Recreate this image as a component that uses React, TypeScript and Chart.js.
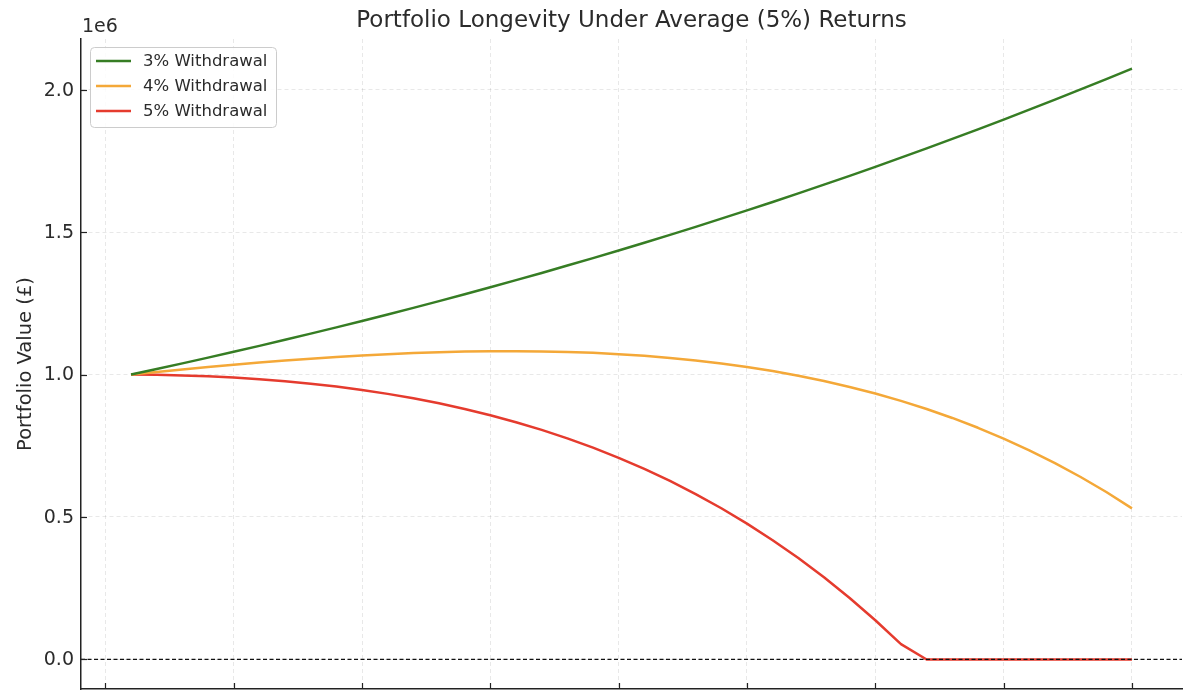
import React, { useEffect, useRef } from 'react';
import { Chart, registerables } from 'chart.js';

Chart.register(...registerables);

// years 1..40, portfolio values in £
const years = [1, 2, 3, 4, 5, 6, 7, 8, 9, 10, 11, 12, 13, 14, 15, 16, 17, 18, 19, 20,
  21, 22, 23, 24, 25, 26, 27, 28, 29, 30, 31, 32, 33, 34, 35, 36, 37, 38, 39, 40];

const withdrawal3 = [1000000, 1019400, 1039200, 1059300, 1079800, 1100600, 1121900, 1143500, 1165500, 1188000,
  1210800, 1234000, 1257700, 1281800, 1306300, 1331200, 1356600, 1382400, 1408700, 1435400,
  1462600, 1490300, 1518400, 1547000, 1576100, 1605700, 1635800, 1666400, 1697400, 1729000,
  1761200, 1793800, 1826900, 1860600, 1894800, 1929600, 1964800, 2000700, 2037000, 2073900];

const withdrawal4 = [1000000, 1009200, 1018000, 1026500, 1034500, 1042100, 1049100, 1055700, 1061600, 1066800,
  1071400, 1075300, 1078300, 1080500, 1081700, 1082000, 1081200, 1079200, 1076000, 1071600,
  1065700, 1058400, 1049400, 1038800, 1026400, 1012100, 995800, 977300, 956500, 933300,
  907600, 879000, 847600, 813100, 775300, 734100, 689200, 640400, 587600, 530300];

const withdrawal5 = [1000000, 999000, 996900, 993700, 989300, 983500, 976400, 967800, 957600, 945700,
  932100, 916500, 898900, 879200, 857200, 832700, 805700, 776000, 743400, 707700,
  668800, 626500, 580500, 530700, 476800, 418600, 355800, 288300, 215700, 137600,
  54000, 0, 0, 0, 0, 0, 0, 0, 0, 0];

const seriesLabels = ['3% Withdrawal', '4% Withdrawal', '5% Withdrawal'];
const seriesColors = ['#367d24', '#f4a838', '#e53b2e'];

const xTicks = [0, 5, 10, 15, 20, 25, 30, 35, 40];
const yTicks = [0, 500000, 1000000, 1500000, 2000000];

const FONT = '"DejaVu Sans", sans-serif';
const TEXT = '#2b2b2b';

// draws title, offset text, y labels, inward ticks, zero line and legend
const decorations = {
  id: 'decorations',
  afterDatasetsDraw(chart: any) {
    const { ctx, chartArea, scales } = chart;
    const { left, right, top, bottom } = chartArea;
    const xs = scales.x;
    const ys = scales.y;

    ctx.save();
    // zero line
    const y0 = ys.getPixelForValue(0);
    ctx.strokeStyle = '#111';
    ctx.lineWidth = 1.2;
    ctx.setLineDash([4, 2.5]);
    ctx.beginPath();
    ctx.moveTo(left, y0);
    ctx.lineTo(right, y0);
    ctx.stroke();
    ctx.setLineDash([]);

    // inward tick marks
    ctx.strokeStyle = '#222';
    ctx.lineWidth = 1.2;
    xTicks.forEach((v) => {
      const px = Math.round(xs.getPixelForValue(v)) + 0.5;
      ctx.beginPath();
      ctx.moveTo(px, bottom);
      ctx.lineTo(px, bottom - 6);
      ctx.stroke();
    });
    yTicks.forEach((v) => {
      const py = Math.round(ys.getPixelForValue(v)) + 0.5;
      ctx.beginPath();
      ctx.moveTo(left, py);
      ctx.lineTo(left + 6, py);
      ctx.stroke();
    });

    // y tick labels
    ctx.fillStyle = TEXT;
    ctx.font = `19px ${FONT}`;
    ctx.textAlign = 'right';
    ctx.textBaseline = 'middle';
    yTicks.forEach((v) => {
      ctx.fillText((v / 1e6).toFixed(1), left - 7, ys.getPixelForValue(v) + 1);
    });

    // offset text
    ctx.textAlign = 'left';
    ctx.fillText('1e6', left + 1, 27);

    // title
    ctx.font = `23px ${FONT}`;
    ctx.textAlign = 'center';
    ctx.fillText('Portfolio Longevity Under Average (5%) Returns', (left + right) / 2, 21);

    // y axis title
    ctx.save();
    ctx.translate(26, (top + bottom) / 2);
    ctx.rotate(-Math.PI / 2);
    ctx.font = `19.5px ${FONT}`;
    ctx.fillText('Portfolio Value (£)', 0, 0);
    ctx.restore();

    // legend
    const bx = 90, by = 47, bw = 186, bh = 80;
    ctx.beginPath();
    ctx.roundRect(bx + 0.5, by + 0.5, bw, bh, 4);
    ctx.fillStyle = 'rgba(255,255,255,0.85)';
    ctx.fill();
    ctx.strokeStyle = '#cccccc';
    ctx.lineWidth = 1;
    ctx.stroke();
    ctx.font = `16.5px ${FONT}`;
    ctx.textAlign = 'left';
    seriesLabels.forEach((label, i) => {
      const ly = 61 + i * 25;
      ctx.strokeStyle = seriesColors[i];
      ctx.lineWidth = 2.5;
      ctx.beginPath();
      ctx.moveTo(96, ly);
      ctx.lineTo(131, ly);
      ctx.stroke();
      ctx.fillStyle = TEXT;
      ctx.fillText(label, 143, ly + 1);
    });
    ctx.restore();
  },
};

const App: React.FC = () => {
  const canvasRef = useRef<HTMLCanvasElement>(null);

  useEffect(() => {
    if (!canvasRef.current) return;
    const series = [withdrawal3, withdrawal4, withdrawal5];

    const chart = new Chart(canvasRef.current, {
      type: 'line',
      data: {
        datasets: series.map((vals, i) => ({
          label: seriesLabels[i],
          data: years.map((yr, j) => ({ x: yr, y: vals[j] })),
          borderColor: seriesColors[i],
          backgroundColor: seriesColors[i],
          borderWidth: 2.5,
          pointRadius: 0,
          tension: 0,
          borderJoinStyle: 'round' as const,
        })),
      },
      options: {
        responsive: true,
        maintainAspectRatio: false,
        animation: false,
        layout: { padding: { top: 39, right: 16, bottom: 0, left: 0 } },
        plugins: {
          legend: { display: false },
          title: { display: false },
          tooltip: { enabled: false },
        },
        scales: {
          x: {
            type: 'linear',
            min: -0.95,
            max: 41.95,
            afterBuildTicks: (scale: any) => {
              scale.ticks = xTicks.map((v) => ({ value: v }));
            },
            afterFit: (scale: any) => {
              scale.height = 6;
            },
            ticks: { display: false },
            grid: { color: 'rgba(0,0,0,0.09)', lineWidth: 1, drawTicks: false },
            border: { display: true, color: '#222', width: 1.5, dash: [4, 3] },
          },
          y: {
            type: 'linear',
            min: -103700,
            max: 2177600,
            afterBuildTicks: (scale: any) => {
              scale.ticks = yTicks.map((v) => ({ value: v }));
            },
            afterFit: (scale: any) => {
              scale.width = 81;
            },
            ticks: { display: false },
            grid: { color: 'rgba(0,0,0,0.09)', lineWidth: 1, drawTicks: false },
            border: { display: true, color: '#222', width: 1.5, dash: [4, 3] },
          },
        },
      },
      plugins: [decorations],
    });

    return () => chart.destroy();
  }, []);

  return (
    <div style={{ position: 'fixed', left: 0, top: 0, width: 1198, height: 695, background: '#fff' }}>
      <canvas ref={canvasRef} />
    </div>
  );
};

export default App;
